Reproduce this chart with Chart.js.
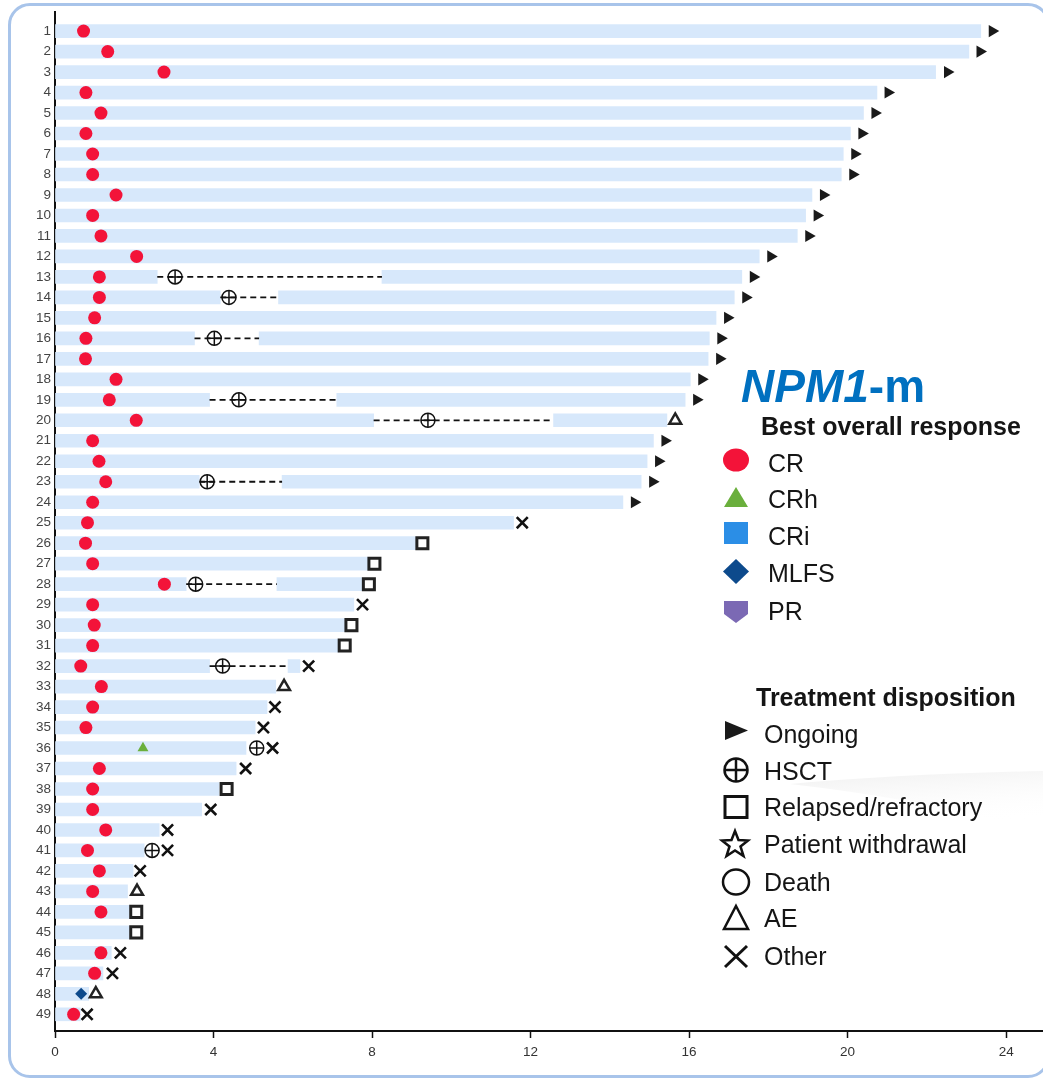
<!DOCTYPE html>
<html>
<head>
<meta charset="utf-8">
<title>NPM1-m swimmer plot</title>
<script src="https://cdn.jsdelivr.net/npm/chart.js@4.4.1/dist/chart.umd.min.js"></script>
<style>
  html, body { margin: 0; padding: 0; background: #fff; }
  #wrap { position: relative; width: 1043px; height: 1079px; overflow: hidden;
          font-family: "Liberation Sans", Arial, sans-serif; }
  #swoosh, #icons { position: absolute; left: 0; top: 0; }
  #chart { position: absolute; left: 0; top: 0; }
  .frame { position: absolute; left: 8px; top: 3px; width: 1042px; height: 1075px;
           box-sizing: border-box; border: 3.5px solid #a8c4ea; border-radius: 22px; }
  .lg { position: absolute; white-space: nowrap; line-height: 1; font-size: 25px; color: #151515; }
  .hd { font-weight: bold; }
  .title { position: absolute; left: 741px; top: 363px; line-height: 1; font-size: 46px;
           font-weight: bold; color: #0070c0; white-space: nowrap; }
</style>
</head>
<body>
<div id="wrap">
  <svg id="swoosh" width="1043" height="1079">
    <defs>
      <linearGradient id="sw" x1="0" x2="0.3" y1="0" y2="1">
        <stop offset="0" stop-color="#efefef" stop-opacity="1"/>
        <stop offset="1" stop-color="#ffffff" stop-opacity="0"/>
      </linearGradient>
    </defs>
    <path d="M790 784 Q 900 774 1043 771 L 1043 832 Q 930 800 790 784 Z" fill="url(#sw)"/>
  </svg>
  <canvas id="chart" width="1043" height="1079"></canvas>
  <div class="frame"></div>

  <div class="title"><i>NPM1</i>-m</div>
  <div class="lg hd" style="left:761px;top:414px;">Best overall response</div>
  <div class="lg" style="left:768px;top:451px;">CR</div>
  <div class="lg" style="left:768px;top:487px;">CRh</div>
  <div class="lg" style="left:768px;top:524px;">CRi</div>
  <div class="lg" style="left:768px;top:561px;">MLFS</div>
  <div class="lg" style="left:768px;top:599px;">PR</div>

  <div class="lg hd" style="left:756px;top:685px;">Treatment disposition</div>
  <div class="lg" style="left:764px;top:722px;">Ongoing</div>
  <div class="lg" style="left:764px;top:759px;">HSCT</div>
  <div class="lg" style="left:764px;top:795px;">Relapsed/refractory</div>
  <div class="lg" style="left:764px;top:832px;">Patient withdrawal</div>
  <div class="lg" style="left:764px;top:870px;">Death</div>
  <div class="lg" style="left:764px;top:906px;">AE</div>
  <div class="lg" style="left:764px;top:944px;">Other</div>

  <svg id="icons" width="1043" height="1079">
    <!-- best overall response -->
    <ellipse cx="736" cy="460" rx="13" ry="11.5" fill="#f31339"/>
    <polygon points="736,487 748,507 724,507" fill="#6aaf3c"/>
    <rect x="724" y="522" width="24" height="22" fill="#2b8ee6"/>
    <polygon points="736,559 749,571.5 736,584 723,571.5" fill="#0d4a8c"/>
    <polygon points="724,601 748,601 748,614 736,623 724,614" fill="#7b69b4"/>
    <!-- treatment disposition -->
    <polygon points="725,721 748,730.5 725,740" fill="#1a1a1a"/>
    <g stroke="#111" stroke-width="2.5" fill="none">
      <circle cx="736" cy="770" r="11.5"/>
      <line x1="724.5" y1="770" x2="747.5" y2="770"/>
      <line x1="736" y1="758.5" x2="736" y2="781.5"/>
      <rect x="725" y="796.5" width="22" height="21" stroke-width="3"/>
      <polygon points="735,831 738.5,840 748,840.5 740.5,846.5 743.5,856 735,850.5 726.5,856 729.5,846.5 722,840.5 731.5,840"/>
      <ellipse cx="736" cy="882" rx="13" ry="12.5"/>
      <polygon points="736,906 748,929 724,929"/>
      <line x1="725" y1="946" x2="747" y2="967" stroke-width="3"/>
      <line x1="747" y1="946" x2="725" y2="967" stroke-width="3"/>
    </g>
  </svg>
</div>

<script>
// patient rows, top to bottom
const patientIds = [1, 2, 3, 4, 5, 6, 7, 8, 9, 10, 11, 12, 13, 14, 15, 16, 17, 18, 19, 20,
  21, 22, 23, 24, 25, 26, 27, 28, 29, 30, 31, 32, 33, 34, 35, 36, 37, 38, 39, 40,
  41, 42, 43, 44, 45, 46, 47, 48, 49];

// best overall response and when it was reached (months)
const responseType = ["CR", "CR", "CR", "CR", "CR", "CR", "CR", "CR", "CR", "CR",
  "CR", "CR", "CR", "CR", "CR", "CR", "CR", "CR", "CR", "CR",
  "CR", "CR", "CR", "CR", "CR", "CR", "CR", "CR", "CR", "CR",
  "CR", "CR", "CR", "CR", "CR", "CRh", "CR", "CR", "CR", "CR",
  "CR", "CR", "CR", "CR", null, "CR", "CR", "MLFS", "CR"];
const responseTime = [0.72, 1.33, 2.75, 0.78, 1.16, 0.78, 0.95, 0.95, 1.54, 0.95,
  1.16, 2.06, 1.12, 1.12, 1.00, 0.78, 0.77, 1.54, 1.37, 2.05,
  0.95, 1.11, 1.28, 0.95, 0.82, 0.77, 0.95, 2.76, 0.95, 0.99,
  0.95, 0.65, 1.17, 0.95, 0.78, 2.22, 1.12, 0.95, 0.95, 1.28,
  0.82, 1.12, 0.95, 1.16, null, 1.16, 1.00, 0.66, 0.47];

// time on study (bar end)
const lastTime = [23.36, 23.06, 22.22, 20.74, 20.40, 20.07, 19.89, 19.84, 19.10, 18.94,
  18.73, 17.77, 17.33, 17.14, 16.68, 16.51, 16.48, 16.03, 15.90, 15.44,
  15.10, 14.94, 14.79, 14.33, 11.57, 9.10, 7.89, 7.75, 7.54, 7.31,
  7.15, 6.18, 5.57, 5.35, 5.05, 4.82, 4.57, 4.14, 3.70, 2.63,
  2.25, 1.97, 1.83, 1.88, 1.88, 1.42, 1.21, 0.85, 0.64];

// HSCT: transplant time, and the off-treatment gap (dashed) around it
const hsctTime = [null, null, null, null, null, null, null, null, null, null,
  null, null, 3.03, 4.39, null, 4.02, null, null, 4.64, 9.41,
  null, null, 3.84, null, null, null, null, 3.55, null, null,
  null, 4.23, null, null, null, 5.09, null, null, null, null,
  2.45, null, null, null, null, null, null, null, null];
const gapStart = [null, null, null, null, null, null, null, null, null, null,
  null, null, 2.58, 4.17, null, 3.52, null, null, 3.90, 8.04,
  null, null, 3.64, null, null, null, null, 3.31, null, null,
  null, 3.90, null, null, null, null, null, null, null, null,
  null, null, null, null, null, null, null, null, null];
const gapEnd = [null, null, null, null, null, null, null, null, null, null,
  null, null, 8.25, 5.64, null, 5.15, null, null, 7.11, 12.58,
  null, null, 5.73, null, null, null, null, 5.60, null, null,
  null, 5.88, null, null, null, null, null, null, null, null,
  null, null, null, null, null, null, null, null, null];

// treatment disposition marker
const dispositionType = ["Ongoing", "Ongoing", "Ongoing", "Ongoing", "Ongoing", "Ongoing", "Ongoing", "Ongoing", "Ongoing", "Ongoing",
  "Ongoing", "Ongoing", "Ongoing", "Ongoing", "Ongoing", "Ongoing", "Ongoing", "Ongoing", "Ongoing", "AE",
  "Ongoing", "Ongoing", "Ongoing", "Ongoing", "Other", "Relapsed", "Relapsed", "Relapsed", "Other", "Relapsed",
  "Relapsed", "Other", "AE", "Other", "Other", "Other", "Other", "Relapsed", "Other", "Other",
  "Other", "Other", "AE", "Relapsed", "Relapsed", "Other", "Other", "AE", "Other"];
const dispositionTime = [23.65, 23.34, 22.52, 21.02, 20.69, 20.36, 20.18, 20.13, 19.39, 19.23,
  19.02, 18.06, 17.62, 17.43, 16.97, 16.80, 16.77, 16.32, 16.19, 15.65,
  15.39, 15.23, 15.08, 14.62, 11.79, 9.27, 8.06, 7.92, 7.76, 7.48,
  7.31, 6.40, 5.78, 5.55, 5.26, 5.49, 4.81, 4.33, 3.93, 2.84,
  2.84, 2.15, 2.07, 2.05, 2.05, 1.65, 1.45, 1.03, 0.81];

const xTicks = [0, 4, 8, 12, 16, 20, 24];

// ---- build datasets ----
const barData = [];
const gapSets = [];
patientIds.forEach((id, i) => {
  if (gapStart[i] != null) {
    barData.push({ x: [0, gapStart[i]], y: id });
    barData.push({ x: [gapEnd[i], lastTime[i]], y: id });
    gapSets.push({
      type: "line",
      data: [{ x: gapStart[i], y: id }, { x: gapEnd[i], y: id }],
      borderColor: "#111",
      borderWidth: 1.8,
      borderDash: [6, 4],
      pointRadius: 0,
      fill: false,
      order: 2
    });
  } else {
    barData.push({ x: [0, lastTime[i]], y: id });
  }
});

function pick(types, times, wanted) {
  return patientIds
    .map((id, i) => (types[i] === wanted ? { x: times[i], y: id } : null))
    .filter(Boolean);
}
const hsctPts = patientIds
  .map((id, i) => (hsctTime[i] != null ? { x: hsctTime[i], y: id } : null))
  .filter(Boolean);

function marker(data, style, radius, fill, stroke, width, extra) {
  return Object.assign({
    type: "scatter",
    data,
    pointStyle: style,
    pointRadius: radius,
    pointHoverRadius: radius,
    pointBackgroundColor: fill,
    pointBorderColor: stroke,
    pointBorderWidth: width,
    pointHoverBorderWidth: width,
    order: 0
  }, extra || {});
}

const datasets = [
  {
    type: "bar",
    indexAxis: "y",
    data: barData,
    backgroundColor: "#d7e8fb",
    borderWidth: 0,
    barThickness: 13,
    grouped: false,
    order: 3
  },
  ...gapSets,
  marker(hsctPts, "circle", 7, "rgba(255,255,255,0)", "#111", 1.5),
  marker(hsctPts, "cross", 7, "#111", "#111", 1.5),
  marker(pick(responseType, responseTime, "CR"), "circle", 6.5, "#f31339", "#f31339", 0),
  marker(pick(responseType, responseTime, "CRh"), "triangle", 6.3, "#6aaf3c", "#6aaf3c", 0),
  marker(pick(responseType, responseTime, "MLFS"), "rectRot", 6, "#0d4a8c", "#0d4a8c", 0),
  marker(pick(dispositionType, dispositionTime, "Ongoing"), "triangle", 7, "#1a1a1a", "#1a1a1a", 0, { pointRotation: 90 }),
  marker(pick(dispositionType, dispositionTime, "Relapsed"), "rect", 7.8, "rgba(255,255,255,0)", "#222", 3),
  marker(pick(dispositionType, dispositionTime, "AE"), "triangle", 6.8, "rgba(255,255,255,0)", "#222", 2.5),
  marker(pick(dispositionType, dispositionTime, "Other"), "crossRot", 7.8, "#111", "#111", 2.6)
];

const tickFont = { family: "'Liberation Sans', Arial, sans-serif", size: 13.5 };

new Chart(document.getElementById("chart").getContext("2d"), {
  type: "bar",
  data: { datasets },
  options: {
    responsive: false,
    animation: false,
    events: [],
    layout: { autoPadding: false, padding: { left: 10, top: 12, right: 0, bottom: 0 } },
    plugins: { legend: { display: false }, tooltip: { enabled: false } },
    scales: {
      x: {
        type: "linear",
        position: "bottom",
        min: 0,
        max: 24.93,
        offset: false,
        grid: { offset: false, drawOnChartArea: false, drawTicks: true, tickLength: 7, tickColor: "#111", tickWidth: 1.5 },
        border: { display: true, color: "#111", width: 2 },
        afterBuildTicks: s => { s.ticks = xTicks.map(v => ({ value: v })); },
        ticks: { padding: 6, color: "#333", font: tickFont, maxRotation: 0, autoSkip: false },
        afterFit: s => { s.height = 48; }
      },
      y: {
        type: "linear",
        reverse: true,
        min: 0.072,
        max: 49.815,
        offset: false,
        grid: { offset: false, drawOnChartArea: false, drawTicks: false },
        border: { display: true, color: "#111", width: 2 },
        afterBuildTicks: s => { s.ticks = patientIds.map(v => ({ value: v })); },
        ticks: {
          padding: 4,
          autoSkip: false,
          color: "#444",
          font: { family: "'Liberation Sans Narrow', 'Arial Narrow', 'Liberation Sans', sans-serif", size: 13.5 },
          callback: v => String(v)
        },
        afterFit: s => { s.width = 45; }
      }
    }
  }
});
</script>
</body>
</html>
